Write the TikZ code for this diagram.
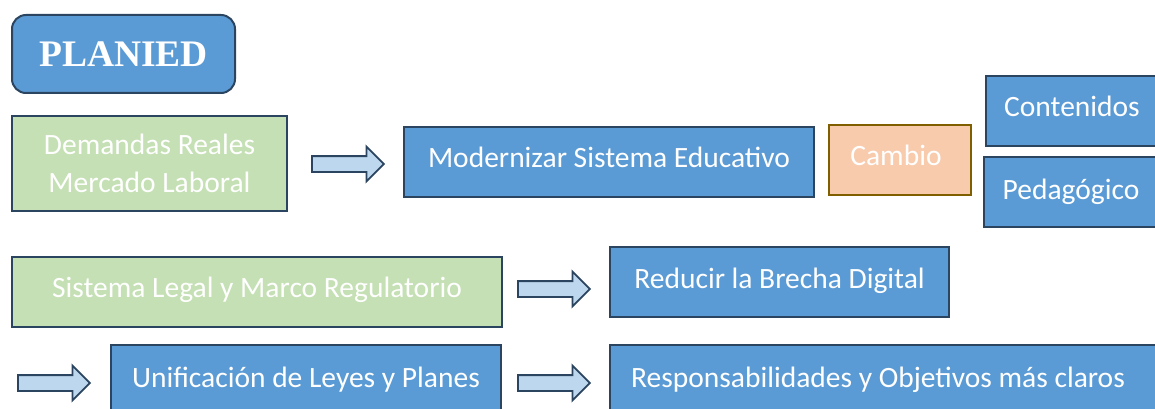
\documentclass[tikz,border=0pt]{standalone}
\usepackage{fontspec}
\setmainfont{Carlito}
\newfontfamily\titlefont{Liberation Serif}
\usetikzlibrary{shapes.arrows}
\definecolor{boxblue}{HTML}{5B9BD5}
\definecolor{boxgreen}{HTML}{C5E0B4}
\definecolor{boxpeach}{HTML}{F8CBAD}
\definecolor{edgeblue}{HTML}{2B4560}
\definecolor{edgebrown}{HTML}{7F5F00}
\definecolor{arrowfill}{HTML}{BDD7EE}
\newcommand{\up}[2][10pt]{\raisebox{#1}{#2}}
\tikzset{
  base/.style={rectangle, draw=edgeblue, line width=2pt, anchor=north west, inner sep=0pt,
    text=white, font=\fontsize{29.5}{38}\selectfont, align=center},
  bluebox/.style={base, fill=boxblue},
  greenbox/.style={base, fill=boxgreen},
  peachbox/.style={base, fill=boxpeach, draw=edgebrown},
  blockarrow/.style={single arrow, draw=edgeblue, line width=1.8pt, fill=arrowfill,
    minimum height=72pt, minimum width=33pt, inner xsep=0pt, inner ysep=7pt,
    single arrow head extend=9.5pt,
    single arrow tip angle=90, anchor=west},
}
\begin{document}
\begin{tikzpicture}[x=1pt,y=-1pt]
\useasboundingbox (0,0) rectangle (1155,409);
\node[bluebox, rounded corners=14pt, minimum width=223pt, minimum height=78pt,
  font=\titlefont\bfseries\fontsize{37.5}{40}\selectfont] (planied) at (11,14) {PLANIED};
\node[greenbox, minimum width=275pt, minimum height=95pt] (demandas) at (11,115)
  {Demandas Reales\\Mercado Laboral};
\node[bluebox, minimum width=410pt, minimum height=70pt] (moder) at (403,126)
  {\up{Modernizar Sistema Educativo}};
\node[peachbox, minimum width=142pt, minimum height=70pt] (cambio) at (828,124) {\up{\hspace*{-8pt}Cambio}};
\node[bluebox, minimum width=180pt, minimum height=70pt] (conten) at (985,75) {\up{\hspace*{-8pt}Contenidos}};
\node[bluebox, minimum width=182pt, minimum height=70pt] (pedag) at (983,156) {\up[6pt]{\hspace*{-8pt}Pedagógico}};
\node[greenbox, minimum width=490pt, minimum height=70pt] (legal) at (11,256)
  {\up{Sistema Legal y Marco Regulatorio}};
\node[bluebox, minimum width=339pt, minimum height=70pt] (brecha) at (609,246)
  {\up[8pt]{Reducir la Brecha Digital}};
\node[bluebox, minimum width=390pt, minimum height=80pt] (unif) at (110,344)
  {\up[16pt]{Unificación de Leyes y Planes}};
\node[bluebox, minimum width=556pt, minimum height=80pt] (resp) at (609,344)
  {\up[16pt]{\hspace*{-20pt}Responsabilidades y Objetivos más claros}};
\node[blockarrow] (a1) at (311,164) {};
\node[blockarrow] (a2) at (517,289) {};
\node[blockarrow] (a3) at (17,383) {};
\node[blockarrow] (a4) at (517,383) {};
\end{tikzpicture}
\end{document}
